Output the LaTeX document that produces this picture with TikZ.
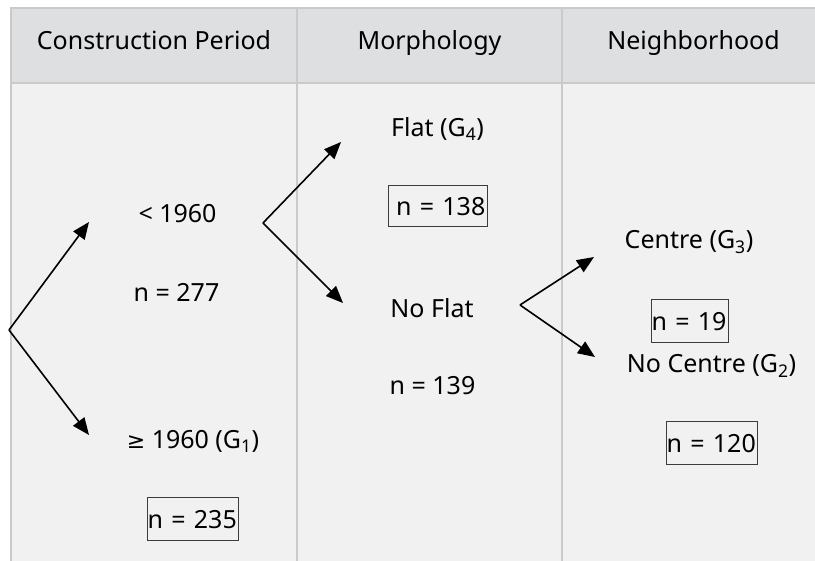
\documentclass[tikz,border=0pt]{standalone}
\usepackage{fontspec}
\setmainfont{Noto Sans}
\newfontfamily\symfont{DejaVu Sans}
\usetikzlibrary{arrows.meta}
\definecolor{hdr}{HTML}{DEDFE1}
\definecolor{bodyc}{HTML}{F1F1F1}
\definecolor{gridc}{HTML}{CACACA}
\definecolor{boxc}{HTML}{3C3C3C}
\begin{document}
\begin{tikzpicture}[x=1pt,y=-1pt,
  lbl/.style={font=\fontsize{25}{29}\selectfont, inner sep=0, anchor=base},
  nbox/.style={font=\fontsize{25}{29}\selectfont, draw=boxc, line width=1pt, align=left,
     inner xsep=0pt, inner ysep=0pt, text height=31pt, text depth=12pt, anchor=north west},
  arr/.style={line width=1.6pt, -{Triangle[length=17pt,width=14pt]}},
  gridl/.style={draw=gridc, line width=2pt}]
\useasboundingbox (0,0) rectangle (815,561);
% table background
\fill[hdr] (10,8) rectangle (815,83);
\fill[bodyc] (10,83) rectangle (815,561);
\draw[gridl] (10,8) -- (815,8);
\draw[gridl] (10,83) -- (815,83);
\draw[gridl] (11,7) -- (11,561);
\draw[gridl] (297,7) -- (297,561);
\draw[gridl] (562,7) -- (562,561);
% headers
\node[lbl] (h1) at (154,50) {Construction Period};
\node[lbl] (h2) at (429.5,50) {Morphology};
\node[lbl] (h3) at (693.5,50) {Neighborhood};
% column 1
\node[lbl] (lt) at (177.5,223) {< 1960};
\node[lbl] (n277) at (176.5,302) {n = 277};
\node[lbl] (ge) at (193,449) {{\symfont\fontsize{22}{26}\selectfont ≥} 1960 (G\textsubscript{1})};
\node[nbox, text width=91pt] (n235) at (147,497) {\mbox{n = 235}};
% column 2
\node[lbl] (flat) at (437.5,137) {Flat (G\textsubscript{4})};
\node[nbox, text width=84pt, inner xsep=7.5pt, text height=30pt, text depth=11pt] (n138) at (388,185) {\mbox{n = 138}};
\node[lbl] (noflat) at (432,318) {No Flat};
\node[lbl] (n139) at (432.5,395) {n = 139};
% column 3
\node[lbl] (centre) at (689,249) {Centre (G\textsubscript{3})};
\node[nbox, text width=77pt] (n19) at (651,299) {\mbox{n = 19}};
\node[lbl] (nocentre) at (711.5,373) {No Centre (G\textsubscript{2})};
\node[nbox, text width=91pt] (n120) at (666,421) {\mbox{n = 120}};
% connectors
\coordinate (s1) at (9,330);
\coordinate (t1u) at (89,222);
\coordinate (t1d) at (89,435);
\coordinate (s2) at (263,223);
\coordinate (t2u) at (341,142);
\coordinate (t2d) at (343,303);
\coordinate (s3) at (520,305);
\coordinate (t3u) at (594,257);
\coordinate (t3d) at (595,357);
\draw[arr] (s1) -- (t1u);
\draw[arr] (s1) -- (t1d);
\draw[arr] (s2) -- (t2u);
\draw[arr] (s2) -- (t2d);
\draw[arr] (s3) -- (t3u);
\draw[arr] (s3) -- (t3d);
\end{tikzpicture}
\end{document}
